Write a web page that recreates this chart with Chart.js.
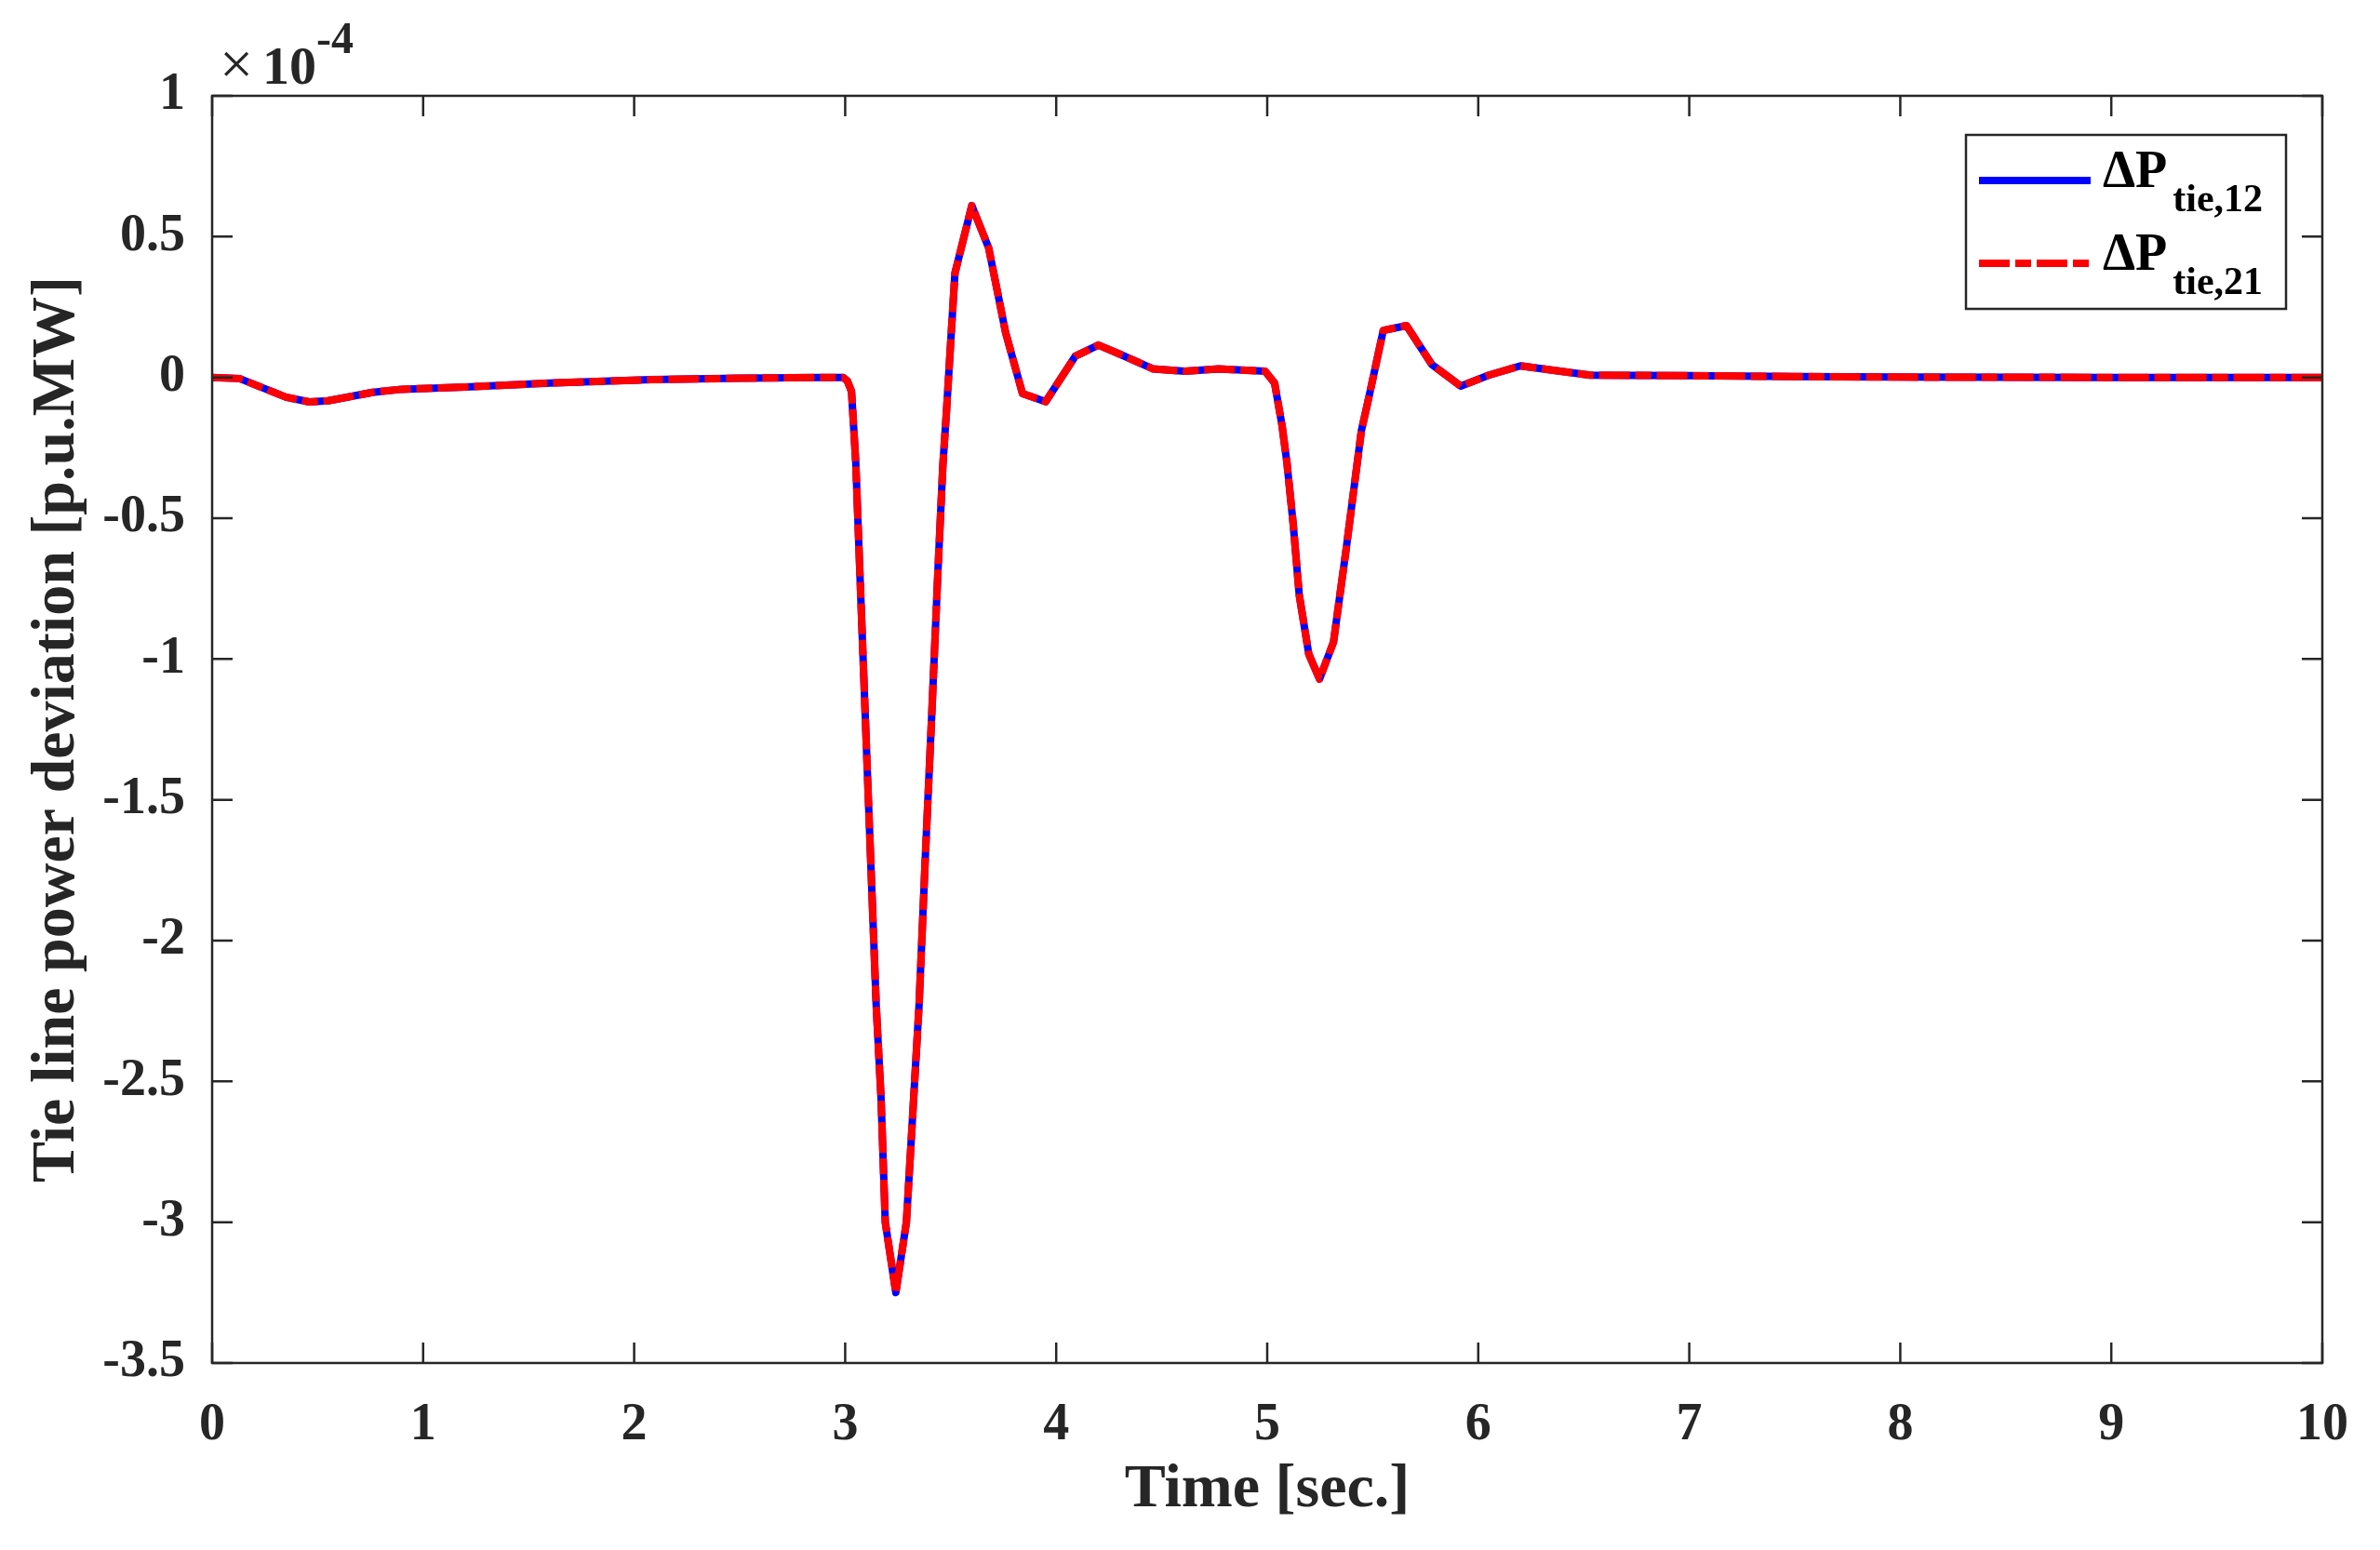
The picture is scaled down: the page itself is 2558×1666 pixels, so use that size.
<!DOCTYPE html>
<html>
<head>
<meta charset="utf-8">
<title>Tie line power deviation</title>
<script src="https://cdn.jsdelivr.net/npm/chart.js@4.4.0/dist/chart.umd.min.js"></script>
<style>
  html, body { margin: 0; padding: 0; background: #ffffff; }
  canvas { display: block; }
</style>
</head>
<body>
<canvas id="tie" width="2558" height="1666"></canvas>
<script>
/* ── data (values in units of 1e-4 p.u.MW) ── */
var timeSec = [0, 0.13, 0.24, 0.35, 0.46, 0.55, 0.76, 0.9, 1.2, 1.6, 2.08, 2.5, 2.88, 2.99,
  3.01, 3.03, 3.05, 3.08, 3.11, 3.147, 3.17, 3.19, 3.24, 3.29, 3.316, 3.35, 3.38, 3.41, 3.44,
  3.463, 3.48, 3.52, 3.60, 3.68, 3.76, 3.84, 3.95, 4.09, 4.2, 4.31, 4.46, 4.61, 4.77, 4.99,
  5.035, 5.07, 5.093, 5.123, 5.152, 5.197, 5.248, 5.314, 5.374, 5.446, 5.476, 5.55, 5.66,
  5.78, 5.917, 6.05, 6.2, 6.34, 6.53, 7.0, 7.5, 8.0, 9.0, 10.0];

var dPtie12 = [0, -0.004, -0.037, -0.07, -0.087, -0.083, -0.053, -0.042, -0.034, -0.02, -0.008, -0.003, 0, 0,
  -0.012, -0.05, -0.3, -0.9, -1.5, -2.23, -2.56, -3.0, -3.25, -3.0, -2.67, -2.23, -1.7, -1.2, -0.68,
  -0.31, -0.12, 0.37, 0.61, 0.46, 0.16, -0.057, -0.086, 0.075, 0.115, 0.08, 0.03, 0.022, 0.03, 0.022,
  -0.02, -0.17, -0.3, -0.52, -0.774, -0.983, -1.071, -0.94, -0.61, -0.19, -0.09, 0.167, 0.184,
  0.046, -0.031, 0.008, 0.041, 0.027, 0.008, 0.006, 0.003, 0.001, 0, 0];

var dPtie21 = [0, -0.004, -0.037, -0.07, -0.087, -0.083, -0.053, -0.042, -0.034, -0.02, -0.008, -0.003, 0, 0,
  -0.012, -0.05, -0.3, -0.9, -1.5, -2.23, -2.56, -3.0, -3.25, -3.0, -2.67, -2.23, -1.7, -1.2, -0.68,
  -0.31, -0.12, 0.37, 0.61, 0.46, 0.16, -0.057, -0.086, 0.075, 0.115, 0.08, 0.03, 0.022, 0.03, 0.022,
  -0.02, -0.17, -0.3, -0.52, -0.774, -0.983, -1.071, -0.94, -0.61, -0.19, -0.09, 0.167, 0.184,
  0.046, -0.031, 0.008, 0.041, 0.027, 0.008, 0.006, 0.003, 0.001, 0, 0];

var xTicks = [0, 1, 2, 3, 4, 5, 6, 7, 8, 9, 10];
var yTicks = [-3.5, -3, -2.5, -2, -1.5, -1, -0.5, 0, 0.5, 1];
var yTickLabels = ['-3.5', '-3', '-2.5', '-2', '-1.5', '-1', '-0.5', '0', '0.5', '1'];
var seriesNames = [['\u0394P', 'tie,12'], ['\u0394P', 'tie,21']];
var axisExponent = '-4';

var INK = '#262626';
var SERIF = '"Liberation Serif", "Times New Roman", serif';
var RED_DASH = [33, 6, 17, 6];

function toPoints(xs, ys) {
  return xs.map(function(x, i) { return { x: x, y: ys[i] }; });
}

/* ── MATLAB-like frame: box, inward ticks, exponent, legend ── */
var matlabFrame = {
  id: 'matlabFrame',
  afterDraw: function(chart) {
    var ctx = chart.ctx, a = chart.chartArea;
    var sx = chart.scales.x, sy = chart.scales.y;
    var tl = 22;
    ctx.save();

    /* box + ticks */
    ctx.strokeStyle = INK;
    ctx.lineWidth = 2.5;
    ctx.strokeRect(a.left, a.top, a.right - a.left, a.bottom - a.top);
    ctx.beginPath();
    xTicks.forEach(function(v) {
      var px = sx.getPixelForValue(v);
      ctx.moveTo(px, a.bottom); ctx.lineTo(px, a.bottom - tl);
      ctx.moveTo(px, a.top);    ctx.lineTo(px, a.top + tl);
    });
    yTicks.forEach(function(v) {
      var py = sy.getPixelForValue(v);
      ctx.moveTo(a.left, py);  ctx.lineTo(a.left + tl, py);
      ctx.moveTo(a.right, py); ctx.lineTo(a.right - tl, py);
    });
    ctx.stroke();

    /* x10^-4 */
    ctx.fillStyle = INK;
    ctx.textAlign = 'left';
    ctx.textBaseline = 'alphabetic';
    ctx.font = '64px ' + SERIF;
    ctx.fillText('\u00D7', a.left + 8, a.top - 13);
    ctx.font = 'bold 58px ' + SERIF;
    ctx.fillText('10', a.left + 54, a.top - 13);
    ctx.font = 'bold 48px ' + SERIF;
    ctx.fillText(axisExponent, a.left + 112, a.top - 46);

    /* legend */
    var bw = 344, bh = 187;
    var bx = a.right - 39 - bw, by = a.top + 42;
    ctx.fillStyle = '#ffffff';
    ctx.fillRect(bx, by, bw, bh);
    ctx.strokeStyle = INK;
    ctx.lineWidth = 2.5;
    ctx.strokeRect(bx, by, bw, bh);

    var rows = [by + 49, by + 138];
    chart.data.datasets.forEach(function(ds, i) {
      var ly = rows[i];
      ctx.save();
      ctx.strokeStyle = ds.borderColor;
      ctx.lineWidth = ds.borderWidth;
      ctx.lineCap = 'butt';
      ctx.setLineDash(ds.borderDash || []);
      ctx.beginPath();
      ctx.moveTo(bx + 14, ly);
      ctx.lineTo(bx + 134, ly);
      ctx.stroke();
      ctx.restore();

      ctx.fillStyle = '#000000';
      ctx.font = 'bold 56px ' + SERIF;
      var tx = bx + 147;
      ctx.fillText(seriesNames[i][0], tx, ly + 7);
      var w = ctx.measureText(seriesNames[i][0]).width;
      ctx.font = 'bold 42px ' + SERIF;
      ctx.fillText(seriesNames[i][1], tx + w + 6, ly + 33);
    });

    ctx.restore();
  }
};

var tickFont = { family: SERIF, size: 56, weight: 'bold' };
var titleFont = { family: SERIF, size: 66, weight: 'bold' };

new Chart(document.getElementById('tie'), {
  type: 'line',
  data: {
    datasets: [
      {
        label: 'dP tie,12',
        data: toPoints(timeSec, dPtie12),
        borderColor: '#0000FF',
        borderWidth: 8,
        borderJoinStyle: 'round',
        borderCapStyle: 'round',
        pointRadius: 0,
        tension: 0,
        order: 1
      },
      {
        label: 'dP tie,21',
        data: toPoints(timeSec, dPtie21),
        borderColor: '#FF0000',
        borderWidth: 8,
        borderDash: RED_DASH,
        borderJoinStyle: 'round',
        borderCapStyle: 'butt',
        pointRadius: 0,
        tension: 0,
        order: 0
      }
    ]
  },
  options: {
    responsive: false,
    devicePixelRatio: 1,
    animation: false,
    layout: { padding: { top: 103, right: 62, left: 0, bottom: 0 } },
    plugins: { legend: { display: false }, tooltip: { enabled: false } },
    scales: {
      x: {
        type: 'linear',
        min: 0,
        max: 10,
        afterBuildTicks: function(s) { s.ticks = xTicks.map(function(v) { return { value: v }; }); },
        afterFit: function(s) { s.height = 201; },
        grid: { display: false },
        border: { display: false },
        ticks: {
          font: tickFont, color: INK, padding: 26, maxRotation: 0, autoSkip: false,
          callback: function(v) { return String(v); }
        },
        title: {
          display: true, text: 'Time [sec.]', font: titleFont, color: INK,
          padding: { top: 0, bottom: 24 }
        }
      },
      y: {
        type: 'linear',
        min: -3.5,
        max: 1,
        afterBuildTicks: function(s) { s.ticks = yTicks.map(function(v) { return { value: v }; }); },
        afterFit: function(s) { s.width = 228; },
        grid: { display: false },
        border: { display: false },
        ticks: {
          font: tickFont, color: INK, padding: 21, autoSkip: false,
          callback: function(v) { return yTickLabels[yTicks.indexOf(v)]; }
        },
        title: {
          display: true, text: 'Tie line power deviation [p.u.MW]', font: titleFont, color: INK,
          padding: { top: 22, bottom: 0 }
        }
      }
    }
  },
  plugins: [matlabFrame]
});
</script>
</body>
</html>
